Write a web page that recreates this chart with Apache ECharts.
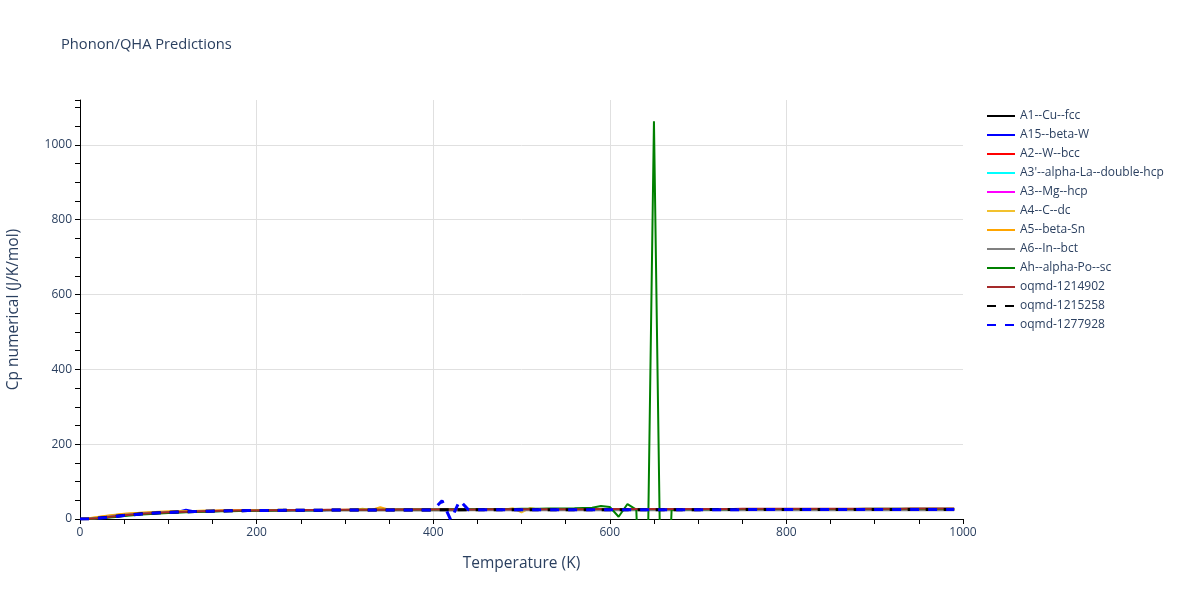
<!DOCTYPE html>
<html>
<head>
<meta charset="utf-8">
<script src="https://cdn.jsdelivr.net/npm/echarts@6/dist/echarts.min.js"></script>
<style>html,body{margin:0;padding:0;background:#fff}#chart{width:1200px;height:600px}</style>
</head>
<body>
<div id="chart"></div>
<script>
// Temperatures (K), shared by all series: 0..990 in steps of 10
const temperatures = [
  0,10,20,30,40,50,60,70,80,90,
  100,110,120,130,140,150,160,170,180,190,
  200,210,220,230,240,250,260,270,280,290,
  300,310,320,330,340,350,360,370,380,390,
  400,410,420,430,440,450,460,470,480,490,
  500,510,520,530,540,550,560,570,580,590,
  600,610,620,630,640,650,660,670,680,690,
  700,710,720,730,740,750,760,770,780,790,
  800,810,820,830,840,850,860,870,880,890,
  900,910,920,930,940,950,960,970,980,990
];

const seriesNames = [
  "A1--Cu--fcc","A15--beta-W","A2--W--bcc","A3'--alpha-La--double-hcp","A3--Mg--hcp",
  "A4--C--dc","A5--beta-Sn","A6--In--bct","Ah--alpha-Po--sc","oqmd-1214902","oqmd-1215258","oqmd-1277928"
];

const cpA1 = [
  0,0.4,2.1,4.6,7.3,9.8,12.0,13.9,15.4,16.7,
  17.8,18.7,19.5,20.1,20.7,21.1,21.5,21.9,22.2,22.5,
  22.7,22.9,23.1,23.2,23.4,23.5,23.6,23.7,23.8,23.9,
  24.0,24.0,24.1,24.1,24.2,24.2,24.3,24.3,24.4,24.4,
  24.4,24.5,24.5,24.5,24.6,24.6,24.6,24.7,24.7,24.7,
  24.7,24.8,24.8,24.8,24.8,24.9,24.9,24.9,24.9,24.9,
  25.0,25.0,25.0,25.0,25.0,25.1,25.1,25.1,25.1,25.1,
  25.2,25.2,25.2,25.2,25.2,25.3,25.3,25.3,25.3,25.3,
  25.3,25.4,25.4,25.4,25.4,25.4,25.4,25.5,25.5,25.5,
  25.5,25.5,25.5,25.6,25.6,25.6,25.6,25.6,25.6,25.7
];
const cpA15 = [
  0,0.3,1.8,4.2,6.9,9.4,11.7,13.6,15.2,16.5,
  17.6,18.6,24.5,20.0,20.6,21.0,21.5,21.8,22.1,22.4,
  22.6,22.8,23.0,23.1,23.3,23.4,23.5,23.6,23.7,23.8,
  23.9,23.9,24.0,24.0,24.1,24.1,24.2,24.2,24.3,24.3,
  24.3,24.4,24.4,24.4,24.5,24.5,24.5,24.5,24.6,24.6,
  24.6,24.6,24.7,24.7,24.7,24.7,24.8,24.8,24.8,24.8,
  24.8,24.9,24.9,24.9,24.9,24.9,25.0,25.0,25.0,25.0,
  25.0,25.0,25.1,25.1,25.1,25.1,25.1,25.1,25.2,25.2,
  25.2,25.2,25.2,25.2,25.3,25.3,25.3,25.3,25.3,25.3,
  25.3,25.4,25.4,25.4,25.4,25.4,25.4,25.4,25.5,25.5
];
const cpA2 = [
  0,0.5,2.4,5.0,7.8,10.3,12.5,14.3,15.8,17.0,
  18.0,18.9,19.6,20.2,20.8,21.2,21.6,22.0,22.3,22.6,
  22.8,23.0,23.2,23.4,23.5,23.6,23.8,23.9,24.0,24.1,
  24.1,24.2,24.3,24.3,24.4,24.4,24.5,24.5,24.6,24.6,
  24.7,24.7,24.7,24.8,24.8,24.9,24.9,24.9,25.0,25.0,
  25.0,25.1,25.1,25.1,25.1,25.2,25.2,25.2,25.3,25.3,
  25.3,25.3,25.4,25.4,25.4,25.4,25.5,25.5,25.5,25.5,
  25.6,25.6,25.6,25.6,25.7,25.7,25.7,25.7,25.8,25.8,
  25.8,25.8,25.9,25.9,25.9,25.9,26.0,26.0,26.0,26.0,
  26.1,26.1,26.1,26.1,26.2,26.2,26.2,26.2,26.3,26.3
];
const cpA3p = [
  0,0.6,2.7,5.4,8.2,10.7,12.8,14.6,16.0,17.2,
  18.2,19.0,19.7,20.3,20.8,21.2,21.6,21.9,22.2,22.5,
  22.7,22.9,23.1,23.2,23.4,23.5,23.6,23.7,23.8,23.9,
  23.9,24.0,24.1,24.1,24.2,24.2,24.3,24.3,24.3,24.4,
  24.4,24.4,24.5,24.5,24.5,24.6,24.6,24.6,24.6,24.7,
  24.7,24.7,24.7,24.8,24.8,24.8,24.8,24.8,24.9,24.9,
  24.9,24.9,24.9,25.0,25.0,25.0,25.0,25.0,25.0,25.1,
  25.1,25.1,25.1,25.1,25.1,25.2,25.2,25.2,25.2,25.2,
  25.2,25.2,25.3,25.3,25.3,25.3,25.3,25.3,25.3,25.4,
  25.4,25.4,25.4,25.4,25.4,25.4,25.5,25.5,25.5,25.5
];
const cpA3 = [
  0,0.8,3.2,6.1,9.0,11.5,13.6,15.3,16.7,17.8,
  18.8,19.6,20.2,20.8,21.2,21.6,22.0,22.3,22.6,22.8,
  23.0,23.2,23.3,23.5,23.6,23.7,23.8,23.9,24.0,24.1,
  24.1,24.2,24.2,24.3,24.3,24.4,24.4,24.5,24.5,24.5,
  24.6,24.6,24.6,24.7,24.7,24.7,24.8,24.8,24.8,24.8,
  24.9,24.9,24.9,24.9,25.0,25.0,25.0,25.0,25.0,25.1,
  25.1,25.1,25.1,25.1,25.2,25.2,25.2,25.2,25.2,25.2,
  25.3,25.3,25.3,25.3,25.3,25.3,25.4,25.4,25.4,25.4,
  25.4,25.4,25.4,25.5,25.5,25.5,25.5,25.5,25.5,25.5,
  25.6,25.6,25.6,25.6,25.6,25.6,25.6,25.7,25.7,25.7
];
const cpA4 = [
  0,1.6,4.8,8.1,11.0,13.4,15.3,16.8,18.0,19.0,
  19.8,20.5,21.0,21.5,21.9,22.2,22.5,22.8,23.0,23.2,
  23.4,23.5,23.6,23.8,23.9,24.0,24.0,24.1,24.2,24.2,
  24.3,24.3,27.5,24.4,24.5,24.5,24.5,24.6,24.6,24.6,
  24.7,24.7,24.7,24.8,24.8,24.8,24.8,24.9,24.9,29.0,
  17.5,29.5,25.0,25.0,25.0,25.1,25.1,25.1,25.1,25.1,
  25.2,25.2,25.2,25.2,25.2,25.3,25.3,25.3,25.3,25.3,
  25.3,25.4,25.4,25.4,25.4,25.4,25.4,25.5,25.5,25.5,
  25.5,25.5,25.5,25.5,25.6,25.6,25.6,25.6,25.6,25.6,
  25.6,25.7,25.7,25.7,25.7,25.7,25.7,25.7,25.8,24.0
];
const cpA5 = [
  0,1.9,5.3,8.6,11.5,13.8,15.6,17.0,18.2,19.1,
  19.9,20.6,21.1,21.6,22.0,22.3,22.6,22.9,23.1,23.3,
  23.5,23.6,23.8,23.9,24.0,24.1,24.1,24.2,24.3,24.3,
  24.4,24.4,24.5,24.5,31.5,24.6,24.6,24.7,24.7,24.7,
  24.8,24.8,24.8,24.9,24.9,24.9,25.0,25.0,25.0,25.0,
  25.1,25.1,25.1,25.1,25.2,25.2,25.2,25.2,25.2,25.3,
  25.3,25.3,25.3,25.3,25.4,25.4,25.4,25.4,25.4,25.4,
  25.5,25.5,25.5,25.5,25.5,25.5,25.6,25.6,25.6,25.6,
  25.6,25.6,25.6,25.7,25.7,25.7,25.7,25.7,25.7,25.7,
  25.8,25.8,25.8,25.8,25.8,25.8,25.8,25.9,25.9,25.9
];
const cpA6 = [
  0,0.9,3.4,6.3,9.1,11.5,13.5,15.1,16.4,17.5,
  18.4,19.1,19.7,20.2,20.6,21.0,21.3,21.5,21.7,21.9,
  22.0,22.1,22.2,22.3,22.4,22.5,22.5,22.6,22.6,22.7,
  22.7,22.7,22.8,22.8,22.8,22.9,22.9,22.9,22.9,23.0,
  23.0,23.0,23.0,23.0,23.1,23.1,23.1,23.1,23.1,23.1,
  23.2,23.2,23.2,23.2,23.2,23.2,23.2,23.3,23.3,23.3,
  23.3,23.3,23.3,23.3,23.3,23.3,23.4,23.4,23.4,23.4,
  23.4,23.4,23.4,23.4,23.4,23.4,23.5,23.5,23.5,23.5,
  23.5,23.5,23.5,23.5,23.5,23.5,23.5,23.6,23.6,23.6,
  23.6,23.6,23.6,23.6,23.6,23.6,23.6,23.6,23.7,23.7
];
const cpAh = [
  0,0.2,1.3,3.2,5.4,7.7,9.8,11.7,13.3,14.7,
  15.9,16.9,17.8,18.6,19.3,19.9,20.4,20.9,21.3,21.7,
  22.0,22.3,22.6,22.9,23.1,23.3,23.5,23.7,23.9,24.1,
  24.2,24.4,24.5,24.7,24.8,25.0,25.1,25.2,25.4,25.5,
  25.6,25.7,25.9,26.0,26.1,26.3,26.4,26.6,26.8,27.0,
  27.2,27.4,27.6,27.8,28.0,28.3,28.6,29.4,30.2,35.0,
  32.0,6.0,40.0,25.0,-600,1063,-580,25.0,26.2,26.0,
  26.1,26.2,26.2,26.3,26.3,26.4,26.4,26.5,26.5,26.6,
  26.6,26.7,26.7,26.8,26.8,26.9,26.9,27.0,27.0,27.1,
  27.1,27.2,27.2,27.3,27.3,27.4,27.4,27.5,27.5,27.6
];
const cpOq1214902 = [
  0,0.5,2.3,4.9,7.6,10.1,12.3,14.1,15.6,16.9,
  18.0,18.9,19.7,20.3,20.9,21.4,21.8,22.2,22.5,22.8,
  23.0,23.3,23.5,23.6,23.8,24.0,24.1,24.2,24.4,24.5,
  24.6,24.7,24.8,24.9,25.0,25.0,25.1,25.2,25.3,25.3,
  25.4,25.5,25.5,25.6,25.6,25.7,25.8,25.8,25.9,25.9,
  26.0,26.0,26.1,26.1,26.2,26.2,26.3,26.3,26.4,26.4,
  26.5,26.5,26.5,26.6,26.6,26.7,26.7,26.8,26.8,26.8,
  26.9,26.9,27.0,27.0,27.0,27.1,27.1,27.2,27.2,27.2,
  27.3,27.3,27.3,27.4,27.4,27.5,27.5,27.5,27.6,27.6,
  27.6,27.7,27.7,27.7,27.8,27.8,27.8,27.9,27.9,27.9
];
const cpOq1215258 = [
  0,0.4,2.0,4.5,7.2,9.7,11.9,13.8,15.3,16.6,
  17.7,18.6,19.4,20.0,20.6,21.1,21.5,21.8,22.1,22.4,
  22.6,22.8,23.0,23.2,23.3,23.4,23.5,23.6,23.7,23.8,
  23.9,24.0,24.0,24.1,24.1,24.2,24.2,24.3,24.3,24.3,
  24.4,24.4,24.4,24.5,24.5,24.5,24.6,24.6,24.6,24.6,
  24.7,24.7,24.7,24.7,24.8,24.8,24.8,24.8,24.8,24.9,
  24.9,24.9,24.9,24.9,24.9,25.0,25.0,25.0,25.0,25.0,
  25.0,25.1,25.1,25.1,25.1,25.1,25.1,25.1,25.2,25.2,
  25.2,25.2,25.2,25.2,25.2,25.3,25.3,25.3,25.3,25.3,
  25.3,25.3,25.3,25.4,25.4,25.4,25.4,25.4,25.4,25.4
];
const cpOq1277928 = [
  0,0.3,1.7,4.0,6.7,9.2,11.5,13.4,15.0,16.4,
  17.5,18.5,19.3,20.0,20.5,21.0,21.4,21.8,22.1,22.4,
  22.6,22.8,23.0,23.1,23.3,23.4,23.5,23.6,23.7,23.8,
  23.9,23.9,24.0,24.0,24.1,24.1,24.2,24.2,24.2,24.3,
  24.3,49.0,-3.0,50.0,24.4,24.4,24.5,24.5,24.5,24.5,
  24.6,24.6,24.6,24.6,24.7,24.7,24.7,24.7,24.7,24.8,
  24.8,24.8,24.8,24.8,24.9,24.9,24.9,24.9,24.9,24.9,
  25.0,25.0,25.0,25.0,25.0,25.0,25.1,25.1,25.1,25.1,
  25.1,25.1,25.1,25.2,25.2,25.2,25.2,25.2,25.2,25.2,
  25.2,25.3,25.3,25.3,25.3,25.3,25.3,25.3,25.3,25.3
];

const seriesValues = [cpA1, cpA15, cpA2, cpA3p, cpA3, cpA4, cpA5, cpA6, cpAh, cpOq1214902, cpOq1215258, cpOq1277928];
const seriesColors = ['#000000','#0000ff','#ff0000','#00ffff','#ff00ff','#f2c12e','#ffa500','#808080','#008000','#a52a2a','#000000','#0000ff'];
const seriesDashed = [false,false,false,false,false,false,false,false,false,false,true,true];

const xTicks = [0, 200, 400, 600, 800, 1000];
const yTicks = [0, 200, 400, 600, 800, 1000];

const textColor = '#2a3f5f';
const font = '"Open Sans", verdana, arial, sans-serif';

const chart = echarts.init(document.getElementById('chart'), null, {renderer: 'canvas'});

const series = seriesNames.map((name, i) => ({
  name: name,
  type: 'line',
  data: temperatures.map((t, k) => [t, seriesValues[i][k]]),
  showSymbol: false,
  symbol: 'none',
  clip: true,
  animation: false,
  lineStyle: {
    color: seriesColors[i],
    width: seriesDashed[i] ? 3 : 2,
    type: seriesDashed[i] ? [9, 9] : 'solid'
  },
  itemStyle: {color: seriesColors[i]}
}));

chart.setOption({
  animation: false,
  backgroundColor: '#ffffff',
  title: {
    text: 'Phonon/QHA Predictions',
    left: 56, top: 32,
    textStyle: {color: textColor, fontSize: 14.7, fontWeight: 'normal', fontFamily: font}
  },
  legend: {
    orient: 'vertical',
    left: 981, top: 105,
    itemWidth: 28, itemHeight: 14, itemGap: 7,
    itemStyle: {opacity: 0},
    textStyle: {color: textColor, fontSize: 12, fontFamily: font},
    data: seriesNames
  },
  grid: {left: 80, right: 237, top: 100, bottom: 81, containLabel: false, outerBoundsMode: 'none'},
  xAxis: {
    type: 'value', min: xTicks[0], max: xTicks[xTicks.length - 1], interval: 200,
    name: 'Temperature (K)', nameLocation: 'middle', nameGap: 37,
    nameTextStyle: {color: textColor, fontSize: 15.5, fontFamily: font},
    axisLine: {show: true, onZero: false, lineStyle: {color: '#000', width: 1}},
    axisTick: {show: true, length: 5, lineStyle: {color: '#000'}},
    minorTick: {show: true, splitNumber: 4, length: 5, lineStyle: {color: '#000'}},
    axisLabel: {color: textColor, fontSize: 12, fontFamily: font, margin: 8,
      formatter: v => String(v)},
    splitLine: {show: true, lineStyle: {color: ['#e0e0e0','#e0e0e0','#e0e0e0','#e0e0e0','#e0e0e0','transparent'], width: 1}}
  },
  yAxis: {
    type: 'value', min: 0, max: 1120, interval: 200,
    name: 'Cp numerical (J/K/mol)', nameLocation: 'middle', nameGap: 58,
    nameTextStyle: {color: textColor, fontSize: 15.5, fontFamily: font},
    axisLine: {show: true, onZero: false, lineStyle: {color: '#000', width: 1}},
    axisTick: {show: true, length: 5, lineStyle: {color: '#000'}},
    minorTick: {show: true, splitNumber: 4, length: 5, lineStyle: {color: '#000'}},
    axisLabel: {color: textColor, fontSize: 12, fontFamily: font, margin: 8, showMaxLabel: false,
      formatter: v => (yTicks.indexOf(v) >= 0 ? String(v) : '')},
    splitLine: {show: true, lineStyle: {color: ['#e0e0e0','#e0e0e0','#e0e0e0','#e0e0e0','#e0e0e0','#e0e0e0','transparent'], width: 1}}
  },
  series: series
});
</script>
</body>
</html>
